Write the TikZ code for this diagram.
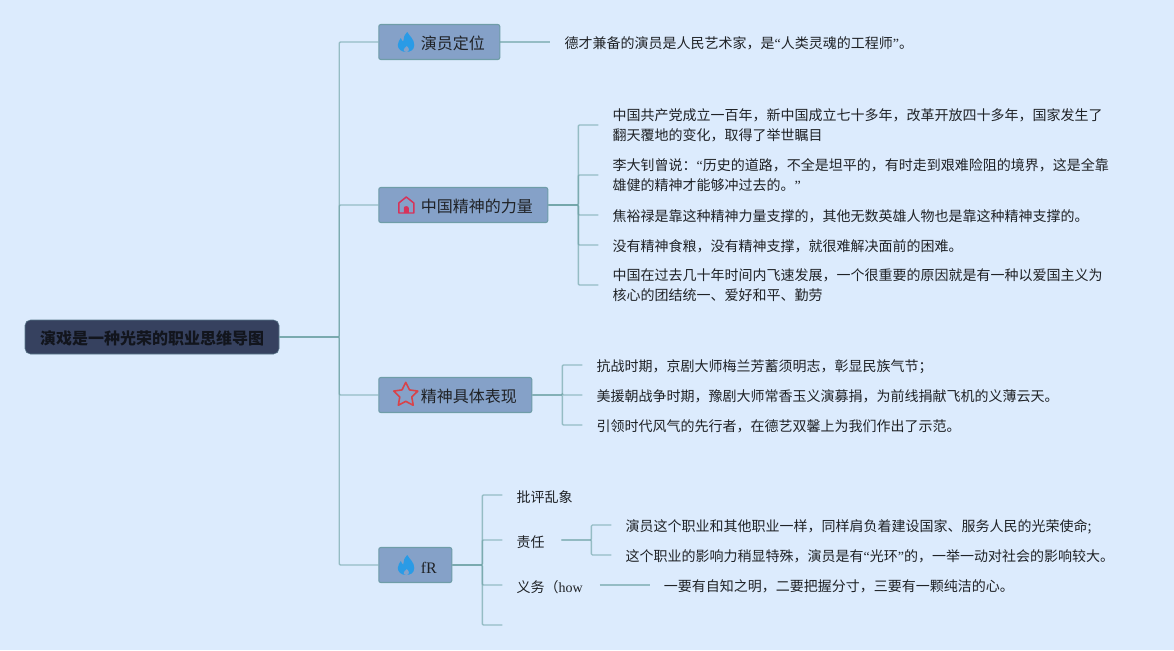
\documentclass[tikz,border=0pt]{standalone}
\usepackage{fontspec}
\usepackage{xcolor}
\usepackage{tikz}
\usetikzlibrary{positioning,shapes.geometric}
\setmainfont{Noto Sans CJK SC}
\newfontfamily\latinserif{Liberation Serif}
\newcommand{\openq}{{\latinserif “}}
\newcommand{\closeq}{{\latinserif ”}}
\definecolor{pagebg}{HTML}{DCEBFD}
\definecolor{rootfill}{HTML}{36415F}
\definecolor{rootink}{HTML}{12151D}
\definecolor{topicfill}{HTML}{85A1C8}
\definecolor{topicedge}{HTML}{6F9DA8}
\definecolor{branch}{HTML}{6FA3A6}
\definecolor{leafink}{HTML}{1F2226}
\definecolor{flameblue}{HTML}{2A9BE6}
\definecolor{housered}{HTML}{D6335A}
\definecolor{starred}{HTML}{D8434A}

\tikzset{
  flame/.pic={
    \fill[flameblue] (1,-10) .. controls (3,-6) and (8,-3) .. (8,3)
      .. controls (8,8) and (4,10) .. (0,10)
      .. controls (-5,10) and (-8.5,7) .. (-8.5,3)
      .. controls (-8.5,0) and (-6.5,-2) .. (-5.5,-4)
      .. controls (-4.5,-2) and (-4,-1) .. (-3,-0.5)
      .. controls (-3,-4) and (-2,-7) .. (1,-10) -- cycle;
    \fill[topicfill] (0.5,4) .. controls (1.8,5.5) and (3,6.5) .. (2.6,8)
      .. controls (2.2,9.5) and (1,10) .. (0,10)
      .. controls (-1.5,10) and (-2.6,9) .. (-2.6,8)
      .. controls (-2.6,6.5) and (-0.8,5.5) .. (0.5,4) -- cycle;
  },
  house/.pic={
    \draw[housered, line width=1.1pt, line join=round]
      (-7.5,8) -- (-7.5,-2) -- (0,-8) -- (7.5,-2) -- (7.5,8) -- cycle;
    \fill[housered] (-2.5,8) -- (-2.5,3) .. controls (-2.5,0.5) and (2.5,0.5) .. (2.5,3) -- (2.5,8) -- cycle;
  },
  starmark/.pic={
    \node[star, star points=5, star point ratio=2, draw=starred, line width=1.2pt,
      minimum size=19pt, inner sep=0pt, line join=round] (starshape) {};
  }
}

\begin{document}
\begin{tikzpicture}[
    x=0.75pt, y=-0.75pt,
    every node/.style={align=left},
    root/.style={draw=topicedge!60!rootfill, fill=rootfill, rounded corners=4pt, text=rootink,
      font=\fontsize{12pt}{15pt}\selectfont\bfseries, minimum width=190.5pt, minimum height=25.5pt, inner sep=0pt, align=center,
      execute at begin node={\rule{0pt}{13pt}}},
    topic/.style={draw=topicedge, fill=topicfill, rounded corners=1.5pt, text=leafink, line width=0.8pt,
      font=\fontsize{12pt}{15pt}\selectfont, minimum height=26.25pt, inner ysep=0pt, inner xsep=11.25pt,
      execute at begin node={\rule{0pt}{12pt}}},
    leaf/.style={inner xsep=10.5pt, inner ysep=0pt, text=leafink, font=\fontsize{10.5pt}{15pt}\selectfont,
      execute at begin node={\rule{0pt}{11.5pt}}},
    longleaf/.style={leaf, text depth=0pt},
    link/.style={draw=branch, line width=1pt, draw opacity=0.65, rounded corners=0.8pt}
  ]
    \fill[pagebg] (0,0) rectangle (1174,650);
    \useasboundingbox (0,0) rectangle (1174,650);

    \node[root] (root) at (152,337) {演戏是一种光荣的职业思维导图};

    \node[topic, right=74.25pt of root, yshift=221.25pt] (position) {\hspace{20.25pt}演员定位};
    \node[topic, right=74.25pt of root, yshift=99pt]     (power)    {\hspace{20.25pt}中国精神的力量};
    \node[topic, right=74.25pt of root, yshift=-43.5pt]  (spirit)   {\hspace{20.25pt}精神具体表现};
    \node[topic, right=74.25pt of root, yshift=-171pt]   (duty)     {\hspace{20.25pt}{\latinserif fR}};

    \pic at ([xshift=28*0.75pt]position.west) {flame};
    \pic at ([xshift=28*0.75pt]power.west)    {house};
    \pic at ([xshift=27.5*0.75pt]spirit.west) {starmark};
    \pic at ([xshift=28*0.75pt]duty.west)     {flame};

    \node[leaf, right=37.5pt of position] (actor) {德才兼备的演员是人民艺术家，是\openq{}人类灵魂的工程师\closeq{}。};

    \node[longleaf, right=37.5pt of power, yshift=60pt]   (pa) {中国共产党成立一百年，新中国成立七十多年，改革开放四十多年，国家发生了\\翻天覆地的变化，取得了举世瞩目};
    \node[longleaf, right=37.5pt of power, yshift=22.5pt] (pb) {李大钊曾说：\openq{}历史的道路，不全是坦平的，有时走到艰难险阻的境界，这是全靠\\雄健的精神才能够冲过去的。\closeq{}};
    \node[leaf, right=37.5pt of power, yshift=-7.5pt]     (pc) {焦裕禄是靠这种精神力量支撑的，其他无数英雄人物也是靠这种精神支撑的。};
    \node[leaf, right=37.5pt of power, yshift=-30pt]      (pd) {没有精神食粮，没有精神支撑，就很难解决面前的困难。};
    \node[longleaf, right=37.5pt of power, yshift=-60pt]  (pe) {中国在过去几十年时间内飞速发展，一个很重要的原因就是有一种以爱国主义为\\核心的团结统一、爱好和平、勤劳};

    \node[leaf, right=37.5pt of spirit, yshift=22.5pt]  (sa) {抗战时期，京剧大师梅兰芳蓄须明志，彰显民族气节；};
    \node[leaf, right=37.5pt of spirit]                 (sb) {美援朝战争时期，豫剧大师常香玉义演募捐，为前线捐献飞机的义薄云天。};
    \node[leaf, right=37.5pt of spirit, yshift=-22.5pt] (sc) {引领时代风气的先行者，在德艺双馨上为我们作出了示范。};

    \node[leaf, right=37.5pt of duty, yshift=52.5pt]    (da) {批评乱象};
    \node[leaf, right=37.5pt of duty, yshift=18.75pt]   (db) {责任\hspace{1.9pt}};
    \node[leaf, right=37.5pt of duty, yshift=-15pt]     (dc) {义务（{\latinserif how}\hspace{1.9pt}};
    \coordinate[right=37.5pt of duty, yshift=-45pt]     (dd);

    \node[leaf, right=37.5pt of db, yshift=11.25pt]     (dba) {演员这个职业和其他职业一样，同样肩负着建设国家、服务人民的光荣使命;};
    \node[leaf, right=37.5pt of db, yshift=-11.25pt]    (dbb) {这个职业的影响力稍显特殊，演员是有\openq{}光环\closeq{}的，一举一动对社会的影响较大。};
    \node[leaf, right=37.5pt of dc]                     (dca) {一要有自知之明，二要把握分寸，三要有一颗纯洁的心。};

    \draw[link] (root.east) -- ++(45pt,0) |- (position.west);
    \draw[link] (root.east) -- ++(45pt,0) |- (power.west);
    \draw[link] (root.east) -- ++(45pt,0) |- (spirit.west);
    \draw[link] (root.east) -- ++(45pt,0) |- (duty.west);

    \draw[link] (position.east) -- (actor.west);

    \foreach \n in {pa,pb,pc,pd,pe}
      \draw[link] (power.east) -- ++(22.5pt,0) |- (\n.west);
    \foreach \n in {sa,sb,sc}
      \draw[link] (spirit.east) -- ++(22.5pt,0) |- (\n.west);
    \foreach \n in {da,db,dc,dd}
      \draw[link] (duty.east) -- ++(22.5pt,0) |- (\n);
    \foreach \n in {dba,dbb}
      \draw[link] (db.east) -- ++(22.5pt,0) |- (\n.west);
    \draw[link] (dc.east) -- (dca.west);
\end{tikzpicture}
\end{document}
